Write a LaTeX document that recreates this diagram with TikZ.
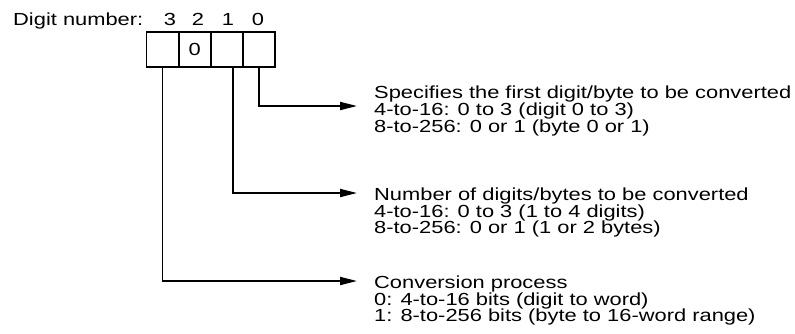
\documentclass[tikz,border=0pt]{standalone}
\usepackage{fontspec}
\setmainfont{Liberation Sans}[FakeStretch=1.25]
\usetikzlibrary{arrows.meta,positioning,calc}

\begin{document}
\begin{tikzpicture}[x=1pt,y=-1pt,
    txt/.style={font=\fontsize{17.5}{16.8}\selectfont,inner sep=0pt},
    cell/.style={draw,line width=1.8pt,outer sep=0pt,inner sep=0pt,
      minimum width=32.1pt,minimum height=35pt,
      font=\fontsize{17.5}{16.8}\selectfont},
    arr/.style={line width=1.8pt,-{Triangle[length=17pt,width=8pt]}}]
  \useasboundingbox (0,0) rectangle (795,333);
  % digit numbers
  \node[txt,anchor=base west] (dn) at (13,25.5) {Digit number:};
  \node[txt,anchor=base] (d3) at (170,25.5) {3};
  \node[txt,anchor=base] (d2) at (198,25.5) {2};
  \node[txt,anchor=base] (d1) at (228,25.5) {1};
  \node[txt,anchor=base] (d0) at (258,25.5) {0};
  % the four digits
  \node[cell] (c3) at (162.55,49.5) {};
  \node[cell,right=0pt of c3] (c2) {0};
  \node[cell,right=0pt of c2] (c1) {};
  \node[cell,right=0pt of c1] (c0) {};
  % arrow ends
  \coordinate (a0) at (357,106);
  \coordinate (a1) at (357,193);
  \coordinate (a3) at (357,281);
  \draw[arr] (c0.south) |- (a0);
  \draw[arr] ([xshift=6pt]c1.south) |- (a1);
  \draw[arr] (c3.south) |- (a3);
  % descriptions
  \node[txt,align=left,anchor=north west] (t0) at ([xshift=17pt,yshift=20pt]a0)
    {Specifies the first digit/byte to be converted\\
     4-to-16: 0 to 3 (digit 0 to 3)\\
     8-to-256: 0 or 1 (byte 0 or 1)};
  \node[txt,align=left,anchor=north west] (t1) at ([xshift=17pt,yshift=5.5pt]a1)
    {Number of digits/bytes to be converted\\
     4-to-16: 0 to 3 (1 to 4 digits)\\
     8-to-256: 0 or 1 (1 or 2 bytes)};
  \node[txt,align=left,anchor=north west] (t3) at ([xshift=17pt,yshift=5.5pt]a3)
    {Conversion process\\
     0: 4-to-16 bits (digit to word)\\
     1: 8-to-256 bits (byte to 16-word range)};
\end{tikzpicture}
\end{document}
